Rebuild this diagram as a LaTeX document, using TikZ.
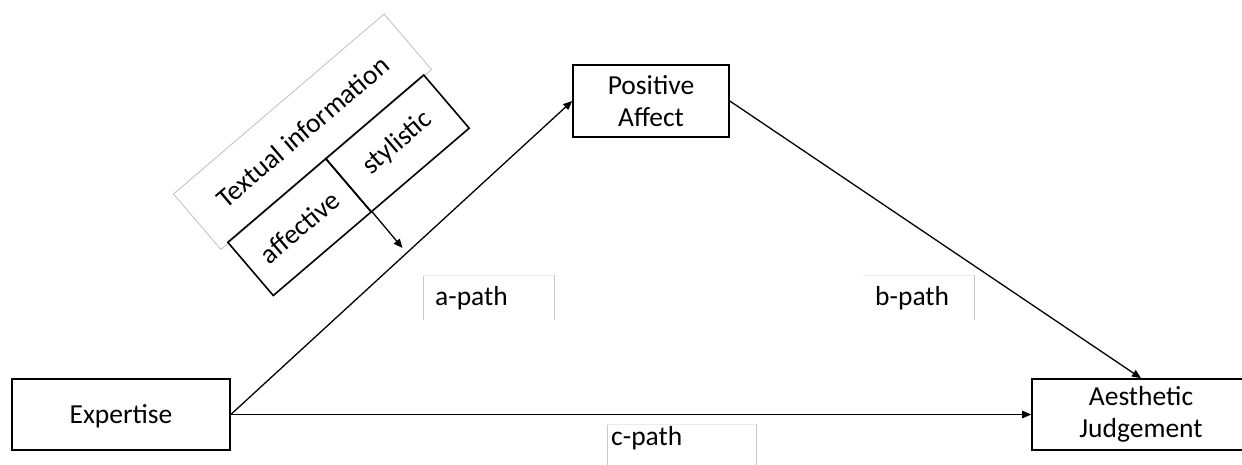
\documentclass[tikz,border=0pt]{standalone}
\usepackage{fontspec}
\setmainfont{Carlito}
\usetikzlibrary{arrows.meta}
\begin{document}
\begin{tikzpicture}[x=1pt,y=-1pt,
  font=\fontsize{27.5}{32}\selectfont,
  box/.style={draw=black, line width=1.6pt, inner sep=0pt, align=center},
  graybox/.style={draw=black!25, line width=0.8pt, inner sep=0pt, align=center},
  lab/.style={inner ysep=0pt, align=left},
  labside/.style={draw=black!22, line width=0.9pt},
  labtop/.style={draw=black!8, line width=0.9pt},
  arr/.style={line width=1.3pt, -{Triangle[length=9pt,width=7.5pt]}}
]
\useasboundingbox (0,0) rectangle (1242,464);
\clip (0,0) rectangle (1242,464);

% main variables
\node[box, minimum width=218pt, minimum height=71pt, text height=18pt, text depth=0pt] (exp) at (121,414.5) {Expertise};
\node[box, minimum width=156pt, minimum height=72pt] (pa) at (651,101) {Positive\\Affect};
\node[box, minimum width=218pt, minimum height=71pt] (aj) at (1141,414.5) {Aesthetic\\Judgement};

% paths
\draw[arr] (exp.east) -- (pa.west);
\draw[arr] (pa.east) -- (aj.north);
\draw[arr] (exp.east) -- (aj.west);

% path labels in light frames
\node[lab, anchor=north west, text width=107pt, inner xsep=12pt, text height=30pt, text depth=15pt] (la) at (423,275) {a-path};
\draw[labside] (la.south west) -- (la.north west);
\draw[labtop] (la.north west) -- (la.north east);
\draw[labside] (la.north east) -- (la.south east);

\node[lab, anchor=north west, text width=87pt, inner xsep=12pt, text height=30pt, text depth=15pt] (lb) at (863,275) {b-path};
\draw[labtop] (lb.north west) -- (lb.north east);
\draw[labside] (lb.north east) -- (lb.south east);

\node[lab, anchor=north west, text width=141pt, inner xsep=4pt, text height=21pt, text depth=24pt] (lc) at (607,424) {c-path};
\draw[labside] (lc.south west) -- (lc.north west);
\draw[labtop] (lc.north west) -- (lc.north east);
\draw[labside] (lc.north east) -- (lc.south east);

% tilted moderator: textual information
\node[graybox, rotate=40.5, minimum width=277pt, minimum height=73pt] (txt) at (302.5,131.75) {Textual information};
\node[box, rotate=40.5, minimum width=128.75pt, minimum height=70pt] (aff) at (299.5,227.1) {affective};
\node[box, rotate=40.5, minimum width=128.75pt, minimum height=70pt] (sty) at (397.5,143.4) {stylistic};
\coordinate (tip) at (402.5,248);
\draw[arr] (aff.south east) -- (tip);
\end{tikzpicture}
\end{document}
